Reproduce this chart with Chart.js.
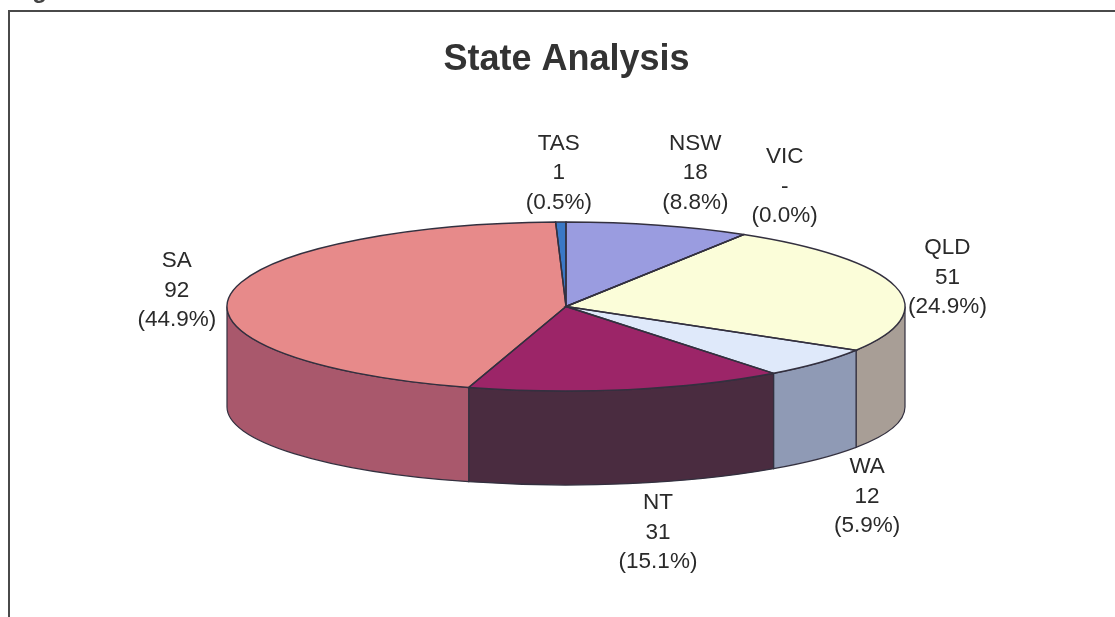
<!DOCTYPE html>
<html>
<head>
<meta charset="utf-8">
<title>State Analysis</title>
<script src="https://cdn.jsdelivr.net/npm/chart.js@4"></script>
<style>
	html, body { margin: 0; padding: 0; background: #fff; overflow: hidden; }
	canvas { display: block; }
</style>
</head>
<body>
<canvas id="chart" width="1115" height="617"></canvas>
<script>
'use strict';

const categories = ['NSW', 'VIC', 'QLD', 'WA', 'NT', 'SA', 'TAS'];
const values = [18, 0, 51, 12, 31, 92, 1];
const topColors = ['#9a9ce0', '#c8c8c8', '#fbfdd9', '#dfe9fa', '#9c2568', '#e78a8a', '#3a78c6'];
const sideColors = ['#6d6fa0', '#8f8f8f', '#a89e96', '#8f9ab5', '#4a2c40', '#a9586c', '#2a5590'];

// label shift from the rim point at each slice's middle angle
const labelShiftX = [37, 41, 52, 48, 30, -53, -2];
const labelShiftY = [-52, -48, -9, 134, 143, -5, -49];

const total = values.reduce((a, b) => a + b, 0);
const outlineColor = '#33303f';

// the tilted disc, in page pixels
const disc = { cx: 566, cy: 306.5, rx: 339, ry: 84.5, bottomCy: 407, bottomRy: 78 };

const frontRange = el => {
	return [Math.max(el.startAngle, 0), Math.min(el.endAngle, Math.PI)];
};

const pie3d = {
	id: 'pie3d',
	beforeDraw(chart) {
		const ctx = chart.ctx;
		ctx.save();
		ctx.fillStyle = '#fff';
		ctx.fillRect(0, 0, chart.width, chart.height);
		ctx.strokeStyle = '#4a4a4a';
		ctx.lineWidth = 2;
		ctx.beginPath();
		ctx.moveTo(9, chart.height);
		ctx.lineTo(9, 11);
		ctx.lineTo(chart.width, 11);
		ctx.stroke();
		// caption above the frame, cut off by the top of the scan
		ctx.font = 'bold 24px "Liberation Sans", Arial, sans-serif';
		ctx.fillStyle = '#444';
		ctx.textBaseline = 'alphabetic';
		ctx.fillText('Figure', 11, -2);
		ctx.restore();
	},
	beforeDatasetsDraw(chart) {
		const ctx = chart.ctx;
		ctx.save();
		ctx.lineWidth = 1.2;
		ctx.strokeStyle = outlineColor;
		chart.getDatasetMeta(0).data.forEach((el, i) => {
			const [a0, a1] = frontRange(el);
			if (a1 <= a0) {
				return;
			}
			ctx.beginPath();
			ctx.ellipse(disc.cx, disc.cy, disc.rx, disc.ry, 0, a0, a1);
			ctx.ellipse(disc.cx, disc.bottomCy, disc.rx, disc.bottomRy, 0, a1, a0, true);
			ctx.closePath();
			ctx.fillStyle = sideColors[i];
			ctx.fill();
			ctx.stroke();
		});
		ctx.restore();
	},
	beforeDatasetDraw(chart) {
		// squash the round pie into the disc's ellipse
		const ctx = chart.ctx;
		const el = chart.getDatasetMeta(0).data[0];
		ctx.save();
		ctx.translate(disc.cx, disc.cy);
		ctx.scale(disc.rx / el.outerRadius, disc.ry / el.outerRadius);
		ctx.translate(-el.x, -el.y);
	},
	afterDatasetDraw(chart) {
		chart.ctx.restore();
	},
	afterDatasetsDraw(chart) {
		const ctx = chart.ctx;
		const arcs = chart.getDatasetMeta(0).data;
		ctx.save();
		ctx.lineWidth = 1.4;
		ctx.strokeStyle = outlineColor;
		arcs.forEach(el => {
			ctx.beginPath();
			ctx.moveTo(disc.cx, disc.cy);
			ctx.ellipse(disc.cx, disc.cy, disc.rx, disc.ry, 0, el.startAngle, el.endAngle);
			ctx.closePath();
			ctx.stroke();
		});

		ctx.font = '22.5px "Liberation Sans", Arial, sans-serif';
		ctx.fillStyle = '#2a2a2a';
		ctx.textAlign = 'center';
		ctx.textBaseline = 'middle';
		arcs.forEach((el, i) => {
			const mid = (el.startAngle + el.endAngle) / 2;
			const x = disc.cx + disc.rx * Math.cos(mid) + labelShiftX[i];
			const y = disc.cy + disc.ry * Math.sin(mid) + labelShiftY[i];
			const pct = (values[i] / total * 100).toFixed(1);
			ctx.fillText(categories[i], x, y - 29.5);
			ctx.fillText(values[i] === 0 ? '-' : String(values[i]), x, y);
			ctx.fillText(`(${pct}%)`, x, y + 29.5);
		});
		ctx.restore();
	}
};

new Chart(document.getElementById('chart').getContext('2d'), {
	type: 'pie',
	data: {
		labels: categories,
		datasets: [
			{
				data: values,
				backgroundColor: topColors,
				borderWidth: 0
			}
		]
	},
	options: {
		responsive: false,
		animation: false,
		layout: { padding: { left: 18, bottom: 200 } },
		plugins: {
			legend: { display: false },
			tooltip: { enabled: false },
			title: {
				display: true,
				text: 'State Analysis',
				color: '#333333',
				font: { family: '"Liberation Sans", Arial, sans-serif', size: 36, weight: 'bold' },
				padding: { top: 38, bottom: 10 }
			}
		}
	},
	plugins: [pie3d]
});
</script>
</body>
</html>
